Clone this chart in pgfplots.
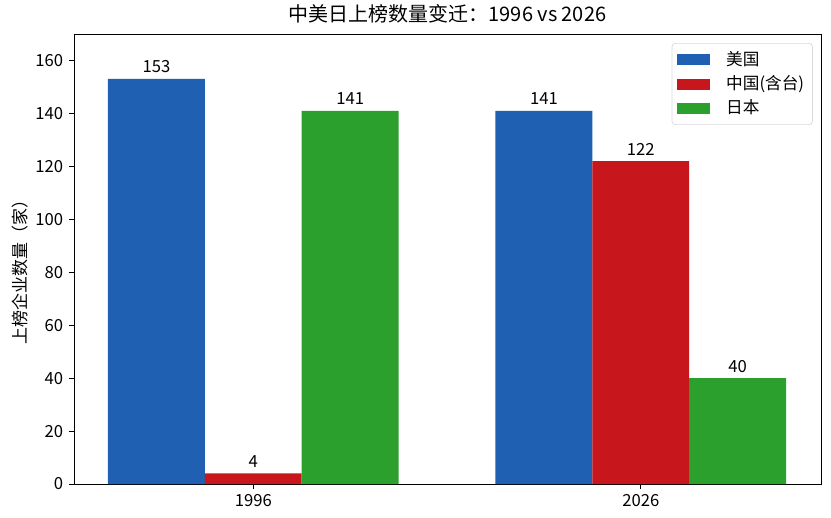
\documentclass[border=0pt]{standalone}
\usepackage{pgfplots}
\pgfplotsset{compat=1.18}
\usepackage{fontspec}
\setmainfont{Noto Sans CJK SC}
\usetikzlibrary{calc}
\definecolor{cblue}{HTML}{2060B2}
\definecolor{cred}{HTML}{C8161D}
\definecolor{cgreen}{HTML}{2CA02C}
\begin{document}
\begin{tikzpicture}[x=1pt,y=1pt]
\begin{axis}[
  name=ax,
  scale only axis,
  width=448.2pt, height=270pt,
  xmin=-0.4627, xmax=1.465,
  ymin=0, ymax=170,
  xtick={0,1}, xticklabels={1996,2026},
  ytick={0,20,40,60,80,100,120,140,160},
  tick pos=left,
  tick align=outside,
  major tick length=3pt,
  tick style={black, line width=0.5pt},
  axis line style={line width=0.5pt},
  /pgf/number format/assume math mode=true,
  ticklabel style={font=\fontsize{10}{11}\selectfont},
  ylabel={上榜企业数量（家）},
  ylabel style={font=\fontsize{10.2}{11}\selectfont},
  every axis y label/.append style={at={(ticklabel cs:0.48)}, yshift=-2.5pt},
  title={中美日上榜数量变迁：1996 vs 2026},
  title style={font=\fontsize{12}{14}\selectfont, yshift=-3pt},
  ybar, bar width=0.25,
  nodes near coords,
  every node near coord/.append style={font=\fontsize{10}{11}\selectfont, yshift=0pt, /pgf/number format/assume math mode=true},
  legend style={at={(rel axis cs:0.989,0.98)}, anchor=north east, draw=black!15, rounded corners=2pt,
    font=\fontsize{10}{11}\selectfont, row sep=0.5pt, inner xsep=3pt, inner ysep=3pt},
  legend cell align=left,
  legend image code/.code={\fill[#1, sharp corners, draw=none] (0pt,-3.3pt) rectangle (20pt,3.3pt); \path[draw=none, fill=none] (0pt,0pt) rectangle (27.5pt,0.1pt);},
]
\addplot[fill=cblue, draw=none, bar shift=-0.25] coordinates {(0,153) (1,141)};
\addlegendentry{美国}
\addplot[fill=cred, draw=none, bar shift=0] coordinates {(0,4) (1,122)};
\addlegendentry{中国(含台)}
\addplot[fill=cgreen, draw=none, bar shift=0.25] coordinates {(0,141) (1,40)};
\addlegendentry{日本}
\end{axis}
\pgfresetboundingbox
\useasboundingbox ($(ax.south west)+(-44.4pt,-20.4pt)$) rectangle ($(ax.north east)+(6pt,20.4pt)$);
\end{tikzpicture}
\end{document}
